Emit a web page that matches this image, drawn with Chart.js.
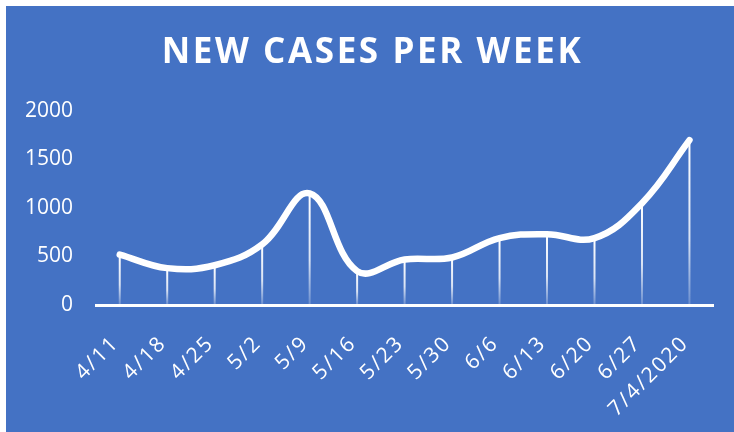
<!DOCTYPE html>
<html>
<head>
<meta charset="utf-8">
<script src="https://cdn.jsdelivr.net/npm/chart.js@4/dist/chart.umd.min.js"></script>
<style>
  html, body { margin: 0; padding: 0; background: #ffffff; }
  #wrap { position: absolute; left: 6px; top: 6px; width: 728px; height: 426px; background: #4472C4; }
</style>
</head>
<body>
<div id="wrap"><canvas id="c"></canvas></div>
<script>
const titleText = 'NEW CASES PER WEEK';
const categories = ['4/11','4/18','4/25','5/2','5/9','5/16','5/23','5/30','6/6','6/13','6/20','6/27','7/4/2020'];
const newCases = [520, 380, 410, 625, 1150, 350, 470, 490, 690, 730, 690, 1050, 1700];
const yTicks = [0, 500, 1000, 1500, 2000];

const FONT = "'Open Sans', 'DejaVu Sans', sans-serif";

const dropLines = {
  id: 'dropLines',
  beforeDatasetsDraw(chart) {
    const ctx = chart.ctx;
    const meta = chart.getDatasetMeta(0);
    const bottom = chart.scales.y.getPixelForValue(0);
    ctx.save();
    ctx.lineWidth = 2;
    meta.data.forEach(pt => {
      const g = ctx.createLinearGradient(0, pt.y, 0, bottom);
      g.addColorStop(0, 'rgba(255,255,255,1)');
      g.addColorStop(0.6, 'rgba(255,255,255,0.8)');
      g.addColorStop(1, 'rgba(255,255,255,0.2)');
      ctx.strokeStyle = g;
      ctx.beginPath();
      ctx.moveTo(pt.x, pt.y);
      ctx.lineTo(pt.x, bottom);
      ctx.stroke();
    });
    ctx.restore();
  }
};

const spacedTitle = {
  id: 'spacedTitle',
  afterDraw(chart) {
    const ctx = chart.ctx;
    ctx.save();
    ctx.font = "bold 35px " + FONT;
    ctx.fillStyle = '#ffffff';
    ctx.textAlign = 'center';
    ctx.textBaseline = 'middle';
    ctx.letterSpacing = '2.6px';
    ctx.fillText(titleText, chart.width / 2 + 2.5, 47);
    ctx.restore();
  }
};

function spaceXLabels(s) {
  if (s._spaced) return;
  s._spaced = true;
  const orig = s.drawLabels;
  s.drawLabels = function (area) {
    this.ctx.save();
    this.ctx.letterSpacing = '2px';
    orig.call(this, area);
    this.ctx.restore();
  };
}

new Chart(document.getElementById('c'), {
  type: 'line',
  data: {
    labels: categories,
    datasets: [{
      data: newCases,
      borderColor: '#ffffff',
      borderWidth: 6.5,
      borderCapStyle: 'round',
      borderJoinStyle: 'round',
      tension: 0.4,
      pointRadius: 0,
      fill: false
    }]
  },
  options: {
    responsive: true,
    maintainAspectRatio: false,
    animation: false,
    layout: { padding: { top: 105, right: 19, left: 0, bottom: 0 } },
    plugins: {
      legend: { display: false },
      title: { display: false },
      tooltip: { enabled: false }
    },
    scales: {
      x: {
        offset: true,
        grid: { display: false, drawTicks: false },
        border: { display: true, color: '#ffffff', width: 3 },
        ticks: {
          color: '#ffffff',
          font: { family: FONT, size: 21 },
          minRotation: 45,
          maxRotation: 45,
          padding: 26,
          labelOffset: -4,
          autoSkip: false
        },
        afterFit(s) { s.height = 127; spaceXLabels(s); }
      },
      y: {
        min: 0,
        max: 2000,
        afterBuildTicks(s) { s.ticks = yTicks.map(v => ({ value: v })); },
        grid: { display: false, drawTicks: false },
        border: { display: false },
        ticks: {
          color: '#ffffff',
          font: { family: FONT, size: 21 },
          padding: 23,
          callback: v => String(v)
        },
        afterFit(s) { s.width = 90; }
      }
    }
  },
  plugins: [dropLines, spacedTitle]
});
</script>
</body>
</html>
